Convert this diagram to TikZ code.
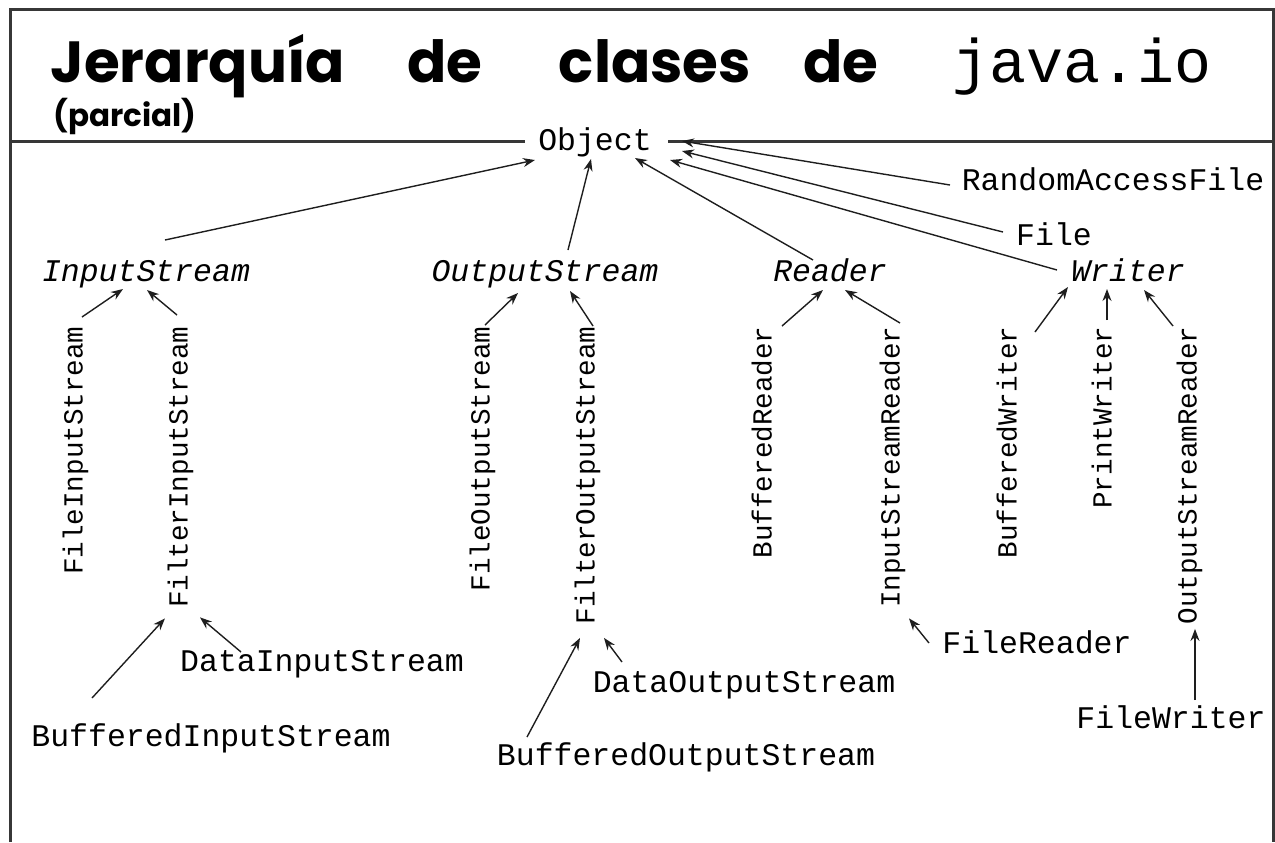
\documentclass[tikz,border=0pt]{standalone}
\usepackage{fontspec}
\setmonofont{Liberation Mono}
\newfontfamily\comicfont{Poppins}
\definecolor{linegray}{RGB}{30,30,30}
\definecolor{framegray}{RGB}{55,55,55}
\usetikzlibrary{calc, arrows.meta}

\begin{document}
\begin{tikzpicture}[x=0.5pt, y=-0.5pt,
  cls/.style={font=\ttfamily\fontsize{15.75}{18}\selectfont, inner sep=0pt,
              text height=11pt, text depth=3pt},
  abscls/.style={cls, font=\ttfamily\itshape\fontsize{15.75}{18}\selectfont},
  vcls/.style={font=\ttfamily\fontsize{13.8}{16}\selectfont, inner sep=0pt,
               text height=9.5pt, text depth=3pt, rotate=90, anchor=east},
  arr/.style={-{Stealth[length=6pt,width=4.5pt]}, line width=0.7pt, linegray},
  frame/.style={line width=1.5pt, framegray},
  ttl/.style={font=\comicfont\bfseries\fontsize{29}{32}\selectfont,
              anchor=base, inner sep=0pt}]
  \useasboundingbox (0,0) rectangle (1275,842);
  % frame and header line
  \draw[frame] (10,842) -- (10,9) -- (1273,9) -- (1273,842);
  \draw[frame] (10,141) -- (525,141);
  \draw[frame] (668,141) -- (1273,141);

  % title
  \node[ttl] (tjer) at (198,82) {Jerarquía};
  \node[ttl] (tde1) at (445,82) {de};
  \node[ttl] (tcla) at (655,82) {clases};
  \node[ttl] (tde2) at (841,82) {de};
  \node[anchor=base, inner sep=0pt, font=\ttfamily\fontsize{30.8}{34}\selectfont]
    (tjava) at (1082,82) {java.io};
  \node[anchor=base west, inner sep=0pt, font=\comicfont\bfseries\fontsize{15.5}{18}\selectfont]
    (tpar) at (53,126) {(parcial)};

  % top of the tree
  \node[cls] (obj) at (595,142) {Object};
  \node[cls] (raf) at (1113,182) {RandomAccessFile};
  \node[cls] (file) at (1054,237) {File};
  \node[abscls] (is) at (146,273) {InputStream};
  \node[abscls] (os) at (545,273) {OutputStream};
  \node[abscls] (rd) at (830,273) {Reader};
  \node[abscls] (wr) at (1128,273) {Writer};

  \draw[arr] ($(is)+(19,-33)$) -- ($(obj)+(-60,18)$);
  \draw[arr] ($(os)+(23,-23)$) -- ($(obj)+(-4,17)$);
  \draw[arr] ($(rd)+(-17,-13)$) -- ($(obj)+(40,16)$);
  \draw[arr] ($(raf)+(-163,3)$) -- ($(obj)+(87,-1)$);
  \draw[arr] ($(file)+(-51,-5)$) -- ($(obj)+(87,9)$);
  \draw[arr] ($(wr)+(-71,-3)$) -- ($(obj)+(75,18)$);

  % subclasses (vertical)
  \node[vcls] (fis) at (76,326) {FileInputStream};
  \node[vcls] (fltis) at (181,326) {FilterInputStream};
  \node[vcls] (fos) at (483,326) {FileOutputStream};
  \node[vcls] (fltos) at (588,326) {FilterOutputStream};
  \node[vcls] (br) at (765,326) {BufferedReader};
  \node[vcls] (isr) at (893,326) {InputStreamReader};
  \node[vcls] (bw) at (1010,326) {BufferedWriter};
  \node[vcls] (pw) at (1105,326) {PrintWriter};
  \node[vcls] (osr) at (1190,326) {OutputStreamReader};

  \draw[arr] ($(fis.east)+(6,-9)$) -- ($(is)+(-23,16)$);
  \draw[arr] ($(fltis.east)+(-4,-11)$) -- ($(is)+(1,17)$);
  \draw[arr] ($(fos.east)+(2,-1)$) -- ($(os)+(-27,20)$);
  \draw[arr] ($(fltos.east)+(5,0)$) -- ($(os)+(25,18)$);
  \draw[arr] ($(br.east)+(17,0)$) -- ($(rd)+(-7,17)$);
  \draw[arr] ($(isr.east)+(7,-3)$) -- ($(rd)+(15,17)$);
  \draw[arr] ($(bw.east)+(25,6)$) -- ($(wr)+(-60,14)$);
  \draw[arr] ($(pw.east)+(2,-6)$) -- ($(wr)+(-21,16)$);
  \draw[arr] ($(osr.east)+(-17,0)$) -- ($(wr)+(16,17)$);

  % lowest level
  \node[cls] (dis) at (322,663) {DataInputStream};
  \node[cls] (bis) at (211,738) {BufferedInputStream};
  \node[cls] (dos) at (744,684) {DataOutputStream};
  \node[cls] (bos) at (686,757) {BufferedOutputStream};
  \node[cls] (fr) at (1037,645) {FileReader};
  \node[cls] (fw) at (1171,720) {FileWriter};

  \draw[arr] ($(bis)+(-119,-40)$) -- ($(fltis.west)+(-16,10)$);
  \draw[arr] ($(dis)+(-81,-11)$) -- ($(fltis.west)+(19,9)$);
  \draw[arr] ($(bos)+(-159,-20)$) -- ($(fltos.west)+(-8,13)$);
  \draw[arr] ($(dos)+(-122,-22)$) -- ($(fltos.west)+(16,13)$);
  \draw[arr] ($(fr)+(-108,-2)$) -- ($(isr.west)+(16,10)$);
  \draw[arr] ($(fw)+(24,-20)$) -- ($(osr.west)+(5,4)$);
\end{tikzpicture}
\end{document}
